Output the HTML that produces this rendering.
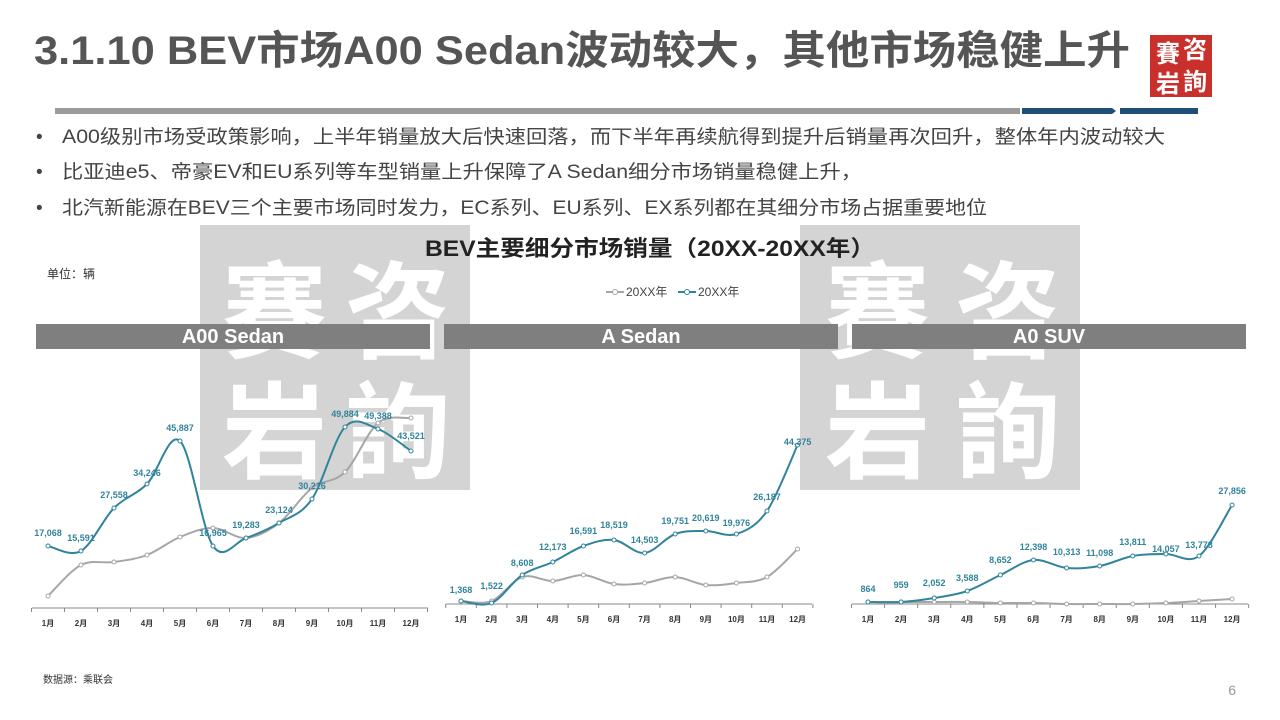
<!DOCTYPE html>
<html><head><meta charset="utf-8"><style>
body{margin:0;width:1280px;height:720px;overflow:hidden;background:#fff;font-family:"Liberation Sans","Noto Sans CJK SC",sans-serif}
svg{position:absolute;left:0;top:0}
</style></head><body>
<svg id="s" width="1280" height="720" xmlns="http://www.w3.org/2000/svg" font-family="Liberation Sans, Noto Sans CJK SC, sans-serif">
<text x="34" y="64" font-size="40" font-weight="bold" fill="#555" textLength="1096" lengthAdjust="spacingAndGlyphs">3.1.10 BEV市场A00 Sedan波动较大，其他市场稳健上升</text>
<rect x="55" y="108" width="965" height="6" fill="#9a9a9a"/>
<polygon points="1022,108 1112,108 1116,111 1112,114 1022,114" fill="#1f4e79"/>
<rect x="1120" y="108" width="78" height="6" fill="#1f4e79"/>
<rect x="1150" y="35" width="62" height="62" fill="#c9302c"/>
<text x="1156" y="62" font-size="24" font-weight="bold" fill="#fff">賽</text>
<text x="1183" y="58" font-size="24" font-weight="bold" fill="#fff">咨</text>
<text x="1156" y="92" font-size="24" font-weight="bold" fill="#fff">岩</text>
<text x="1183" y="90" font-size="24" font-weight="bold" fill="#fff">詢</text>
<g font-size="19" fill="#444">
<text x="36" y="143">•</text><text x="62" y="143" textLength="1103" lengthAdjust="spacingAndGlyphs">A00级别市场受政策影响，上半年销量放大后快速回落，而下半年再续航得到提升后销量再次回升，整体年内波动较大</text>
<text x="36" y="178">•</text><text x="62" y="178" textLength="800" lengthAdjust="spacingAndGlyphs">比亚迪e5、帝豪EV和EU系列等车型销量上升保障了A  Sedan细分市场销量稳健上升，</text>
<text x="36" y="214">•</text><text x="62" y="214" textLength="925" lengthAdjust="spacingAndGlyphs">北汽新能源在BEV三个主要市场同时发力，EC系列、EU系列、EX系列都在其细分市场占据重要地位</text>
</g>
<g>
<rect x="200" y="225" width="270" height="265" fill="#d4d4d4"/>
<rect x="800" y="225" width="280" height="265" fill="#d4d4d4"/>
<g font-size="105" font-weight="bold" fill="#fff">
<text x="222" y="350">賽</text><text x="345" y="350">咨</text><text x="222" y="470">岩</text><text x="345" y="470">詢</text>
<text x="825" y="350">賽</text><text x="955" y="350">咨</text><text x="825" y="470">岩</text><text x="955" y="470">詢</text>
</g></g>
<text x="650" y="256" font-size="22" font-weight="bold" fill="#222" text-anchor="middle" textLength="450" lengthAdjust="spacingAndGlyphs">BEV主要细分市场销量（20XX-20XX年）</text>
<text x="47" y="278" font-size="12" fill="#333">单位：辆</text>
<line x1="606" y1="292" x2="624" y2="292" stroke="#a6a6a6" stroke-width="2"/><circle cx="615" cy="292" r="2.5" fill="#fff" stroke="#a6a6a6"/>
<text x="626" y="296" font-size="12" fill="#444">20XX年</text>
<line x1="678" y1="292" x2="696" y2="292" stroke="#31849b" stroke-width="2"/><circle cx="687" cy="292" r="2.5" fill="#fff" stroke="#31849b"/>
<text x="698" y="296" font-size="12" fill="#444">20XX年</text>
<rect x="36" y="324" width="394" height="25" fill="#7f7f7f"/><text x="233" y="343" font-size="20" font-weight="bold" fill="#fff" text-anchor="middle">A00 Sedan</text>
<rect x="444" y="324" width="394" height="25" fill="#7f7f7f"/><text x="641" y="343" font-size="20" font-weight="bold" fill="#fff" text-anchor="middle">A Sedan</text>
<rect x="852" y="324" width="394" height="25" fill="#7f7f7f"/><text x="1049" y="343" font-size="20" font-weight="bold" fill="#fff" text-anchor="middle">A0 SUV</text>
<g id="charts"></g>
<text x="43" y="683" font-size="10" fill="#333">数据源：乘联会</text>
<text x="1236" y="695" font-size="14" fill="#999" text-anchor="end">6</text>
</svg>
<script>
function path(xs,ys){let d="M"+xs[0]+","+ys[0];const n=xs.length;
for(let i=0;i<n-1;i++){const p0=[xs[Math.max(i-1,0)],ys[Math.max(i-1,0)]],p1=[xs[i],ys[i]],p2=[xs[i+1],ys[i+1]],p3=[xs[Math.min(i+2,n-1)],ys[Math.min(i+2,n-1)]];
const c1=[p1[0]+(p2[0]-p0[0])/6,p1[1]+(p2[1]-p0[1])/6],c2=[p2[0]-(p3[0]-p1[0])/6,p2[1]-(p3[1]-p1[1])/6];
d+=" C"+c1+" "+c2+" "+p2;}return d;}
const P=[
{x0:48,dx:33,ax:[32,428],ay:608,b:[546,551,508,484,441,546,538,523,499,427,429,451],g:[596,565,562,555,537,528,538,523,488,472,423,418],
 l:["17,068","15,591","27,558","34,246","45,887","16,965","19,283","23,124","30,216","49,884","49,388","43,521"],ly:[536,541,498,476,431,536,528,513,489,417,419,439]},
{x0:461,dx:30.6,ax:[446,812],ay:604,b:[601,603,575,562,546,540,553,534,531,534,511,445],g:[601,601,577,581,575,584,583,577,585,583,577,549],
 l:["1,368","1,522","8,608","12,173","16,591","18,519","14,503","19,751","20,619","19,976","26,187","44,375"],ly:[593,589,566,550,534,528,543,524,521,526,500,445]},
{x0:868,dx:33.1,ax:[852,1248],ay:604,b:[602,602,598,591,575,560,568,566,556,554,556,505],g:[602,602,602,602,603,603,604,604,604,603,601,599],
 l:["864","959","2,052","3,588","8,652","12,398","10,313","11,098","13,811","14,057","13,778","27,856"],ly:[592,588,586,581,563,550,555,556,545,552,548,494]}];
let h="";
P.forEach(p=>{const xs=p.b.map((_,i)=>p.x0+i*p.dx);
h+=`<line x1="${p.ax[0]}" y1="${p.ay}" x2="${p.ax[1]}" y2="${p.ay}" stroke="#888" stroke-width="1"/>`;
for(let i=0;i<=12;i++){const tx=p.x0-p.dx/2+i*p.dx;h+=`<line x1="${tx}" y1="${p.ay}" x2="${tx}" y2="${p.ay+4}" stroke="#888"/>`;}
xs.forEach((x,i)=>{h+=`<text x="${x}" y="${p.ay+18}" font-size="8" font-weight="bold" fill="#333" text-anchor="middle">${i+1}月</text>`;});
h+=`<path d="${path(xs,p.g)}" fill="none" stroke="#a6a6a6" stroke-width="2"/>`;
xs.forEach((x,i)=>{h+=`<circle cx="${x}" cy="${p.g[i]}" r="2" fill="#fff" stroke="#a6a6a6"/>`;});
h+=`<path d="${path(xs,p.b)}" fill="none" stroke="#31849b" stroke-width="2"/>`;
xs.forEach((x,i)=>{h+=`<circle cx="${x}" cy="${p.b[i]}" r="2" fill="#fff" stroke="#31849b"/>`;
h+=`<text x="${x}" y="${p.ly[i]}" font-size="9" font-weight="bold" fill="#31849b" text-anchor="middle">${p.l[i]}</text>`;});
});
document.getElementById("charts").innerHTML=h;
</script>
</body></html>
